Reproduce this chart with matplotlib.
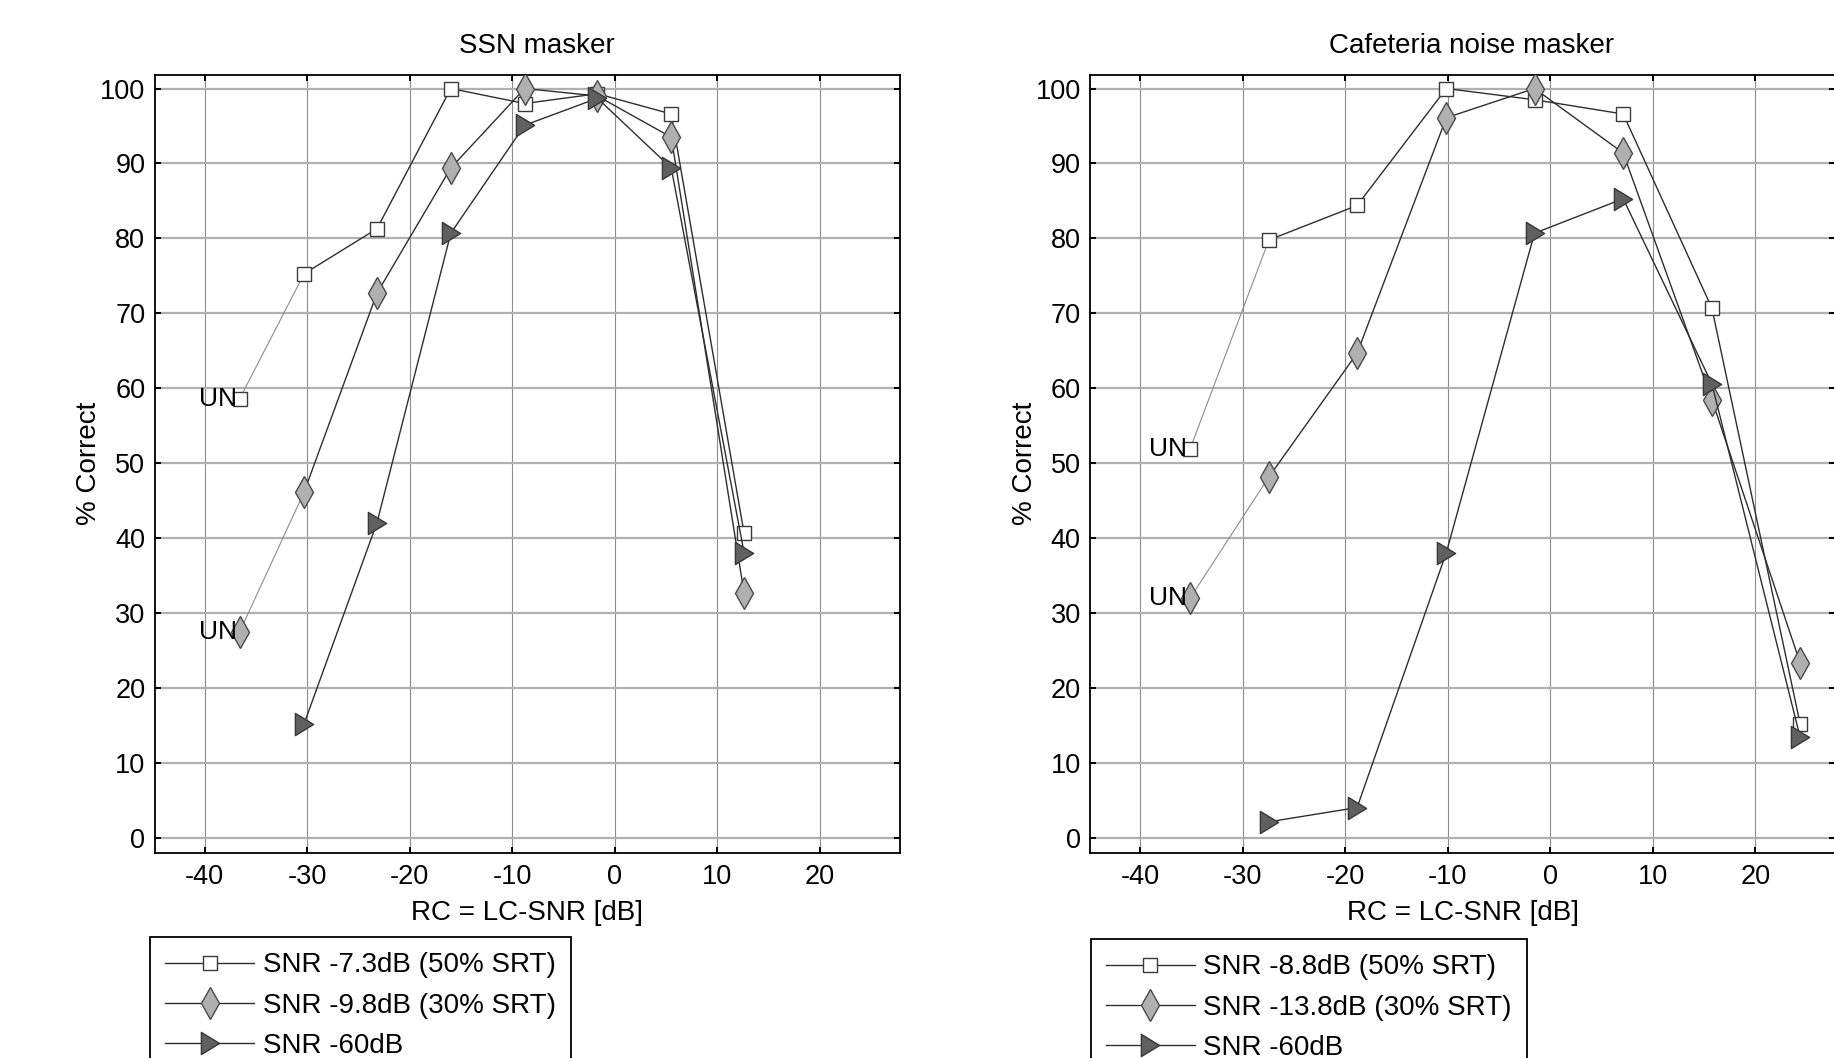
import matplotlib
matplotlib.use('Agg')
import matplotlib.pyplot as plt
from matplotlib.path import Path

plt.rcParams['font.family'] = ['Liberation Sans', 'DejaVu Sans']
plt.rcParams['axes.unicode_minus'] = False

# --- data ---
ssn_x = [-36.6, -30.3, -23.2, -16.0, -8.8, -1.7, 5.5, 12.6]
ssn_50 = [58.6, 75.3, 81.3, 100.0, 98.0, 99.3, 96.6, 40.7]
ssn_30 = [27.5, 46.2, 72.7, 89.4, 100.0, 99.0, 93.5, 32.7]
ssn_60 = [15.3, 42.1, 80.7, 95.1, 98.7, 89.4, 38.1]   # no UN point
ssn_labels = ['SNR -7.3dB (50% SRT)', 'SNR -9.8dB (30% SRT)', 'SNR -60dB']

caf_x = [-35.15, -27.45, -18.85, -10.15, -1.55, 7.1, 15.75, 24.35]
caf_50 = [51.9, 79.8, 84.4, 100.0, 98.5, 96.6, 70.7, 15.3]
caf_30 = [32.0, 48.2, 64.7, 96.1, 100.0, 91.4, 58.5, 23.4]
caf_60 = [2.2, 4.1, 38.1, 80.7, 85.3, 60.6, 13.5]     # no UN point
caf_labels = ['SNR -8.8dB (50% SRT)', 'SNR -13.8dB (30% SRT)', 'SNR -60dB']

xticks = [-40, -30, -20, -10, 0, 10, 20]
yticks = list(range(0, 101, 10))

FS = 20
tri = Path([(-0.82, -1), (0.82, 0), (-0.82, 1), (-0.82, -1)],
           [Path.MOVETO, Path.LINETO, Path.LINETO, Path.CLOSEPOLY])

sq_style = dict(marker='s', ms=10, mfc='white', mec='#3a3a3a', mew=1.0)
di_style = dict(marker='d', ms=16, mfc='#b0b0b0', mec='#4a4a4a', mew=1.0)
tr_style = dict(marker=tri, ms=16, mfc='#606060', mec='#383838', mew=1.0)
line_c = '#2e2e2e'
un_c = '#8c8c8c'


def panel(ax, x, s50, s30, s60, labels, title, leg_anchor):
    handles = []
    for ys, st in [(s50, sq_style), (s30, di_style)]:
        # unprocessed point joined by a lighter line
        ax.plot(x[:2], ys[:2], color=un_c, lw=0.8, zorder=2)
        ax.plot(x[0], ys[0], ls='none', zorder=3, **st)
        h, = ax.plot(x[1:], ys[1:], color=line_c, lw=1.0, zorder=3, **st)
        handles.append(h)
        ax.annotate('UN', (x[0], ys[0]), xytext=(-2, 0), textcoords='offset points',
                    ha='right', va='center', fontsize=19, zorder=5)
    h, = ax.plot(x[1:], s60, color=line_c, lw=1.0, zorder=4, **tr_style)
    handles.append(h)

    ax.set_xlim(-44.85, 27.8)
    ax.set_ylim(-1.9, 101.8)
    ax.set_xticks(xticks)
    ax.set_yticks(yticks)
    ax.xaxis.grid(True, color='#8c8c8c', lw=0.8)
    ax.yaxis.grid(True, color='#b0b0b0', lw=1.6)
    ax.set_axisbelow(True)
    for sp in ax.spines.values():
        sp.set_linewidth(1.3)
    ax.tick_params(direction='in', top=True, right=True, length=4, width=1.4,
                   labelsize=19.5)
    ax.tick_params(axis='x', pad=8)
    ax.tick_params(axis='y', pad=7)

    ax.set_title(title, fontsize=FS, pad=15.5, x=0.512)
    ax.set_xlabel('RC = LC-SNR [dB]', fontsize=FS, va='center')
    ax.xaxis.set_label_coords(0.5, -0.078)
    ax.set_ylabel('% Correct', fontsize=FS, va='center')
    ax.yaxis.set_label_coords(-0.088, 0.5)

    leg = ax.legend(handles, labels, loc='upper left', bbox_to_anchor=leg_anchor,
                    bbox_transform=fig.transFigure, borderaxespad=0, fancybox=False,
                    edgecolor='black', framealpha=1, fontsize=FS, numpoints=1,
                    handlelength=3.2, handletextpad=0.3, borderpad=0.55,
                    labelspacing=0.52)
    leg.get_frame().set_linewidth(1.3)


fig = plt.figure(figsize=(18.34, 10.58), dpi=100)
ax1 = fig.add_axes([0.0845, 0.1942, 0.4062, 0.7349])
ax2 = fig.add_axes([0.5946, 0.1942, 0.4062, 0.7349])

panel(ax1, ssn_x, ssn_50, ssn_30, ssn_60, ssn_labels, 'SSN masker', (0.0818, 0.1144))
panel(ax2, caf_x, caf_50, caf_30, caf_60, caf_labels, 'Cafeteria noise masker',
      (0.5947, 0.1125))

fig.savefig('out.png', dpi=100)
